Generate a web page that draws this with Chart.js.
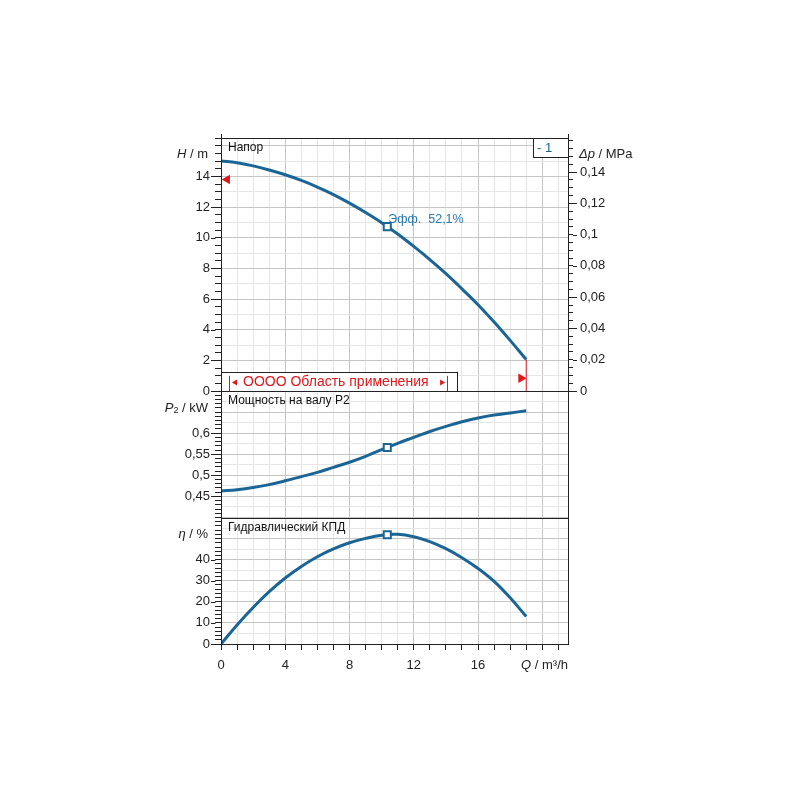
<!DOCTYPE html>
<html>
<head>
<meta charset="utf-8">
<script src="https://cdn.jsdelivr.net/npm/chart.js@4/dist/chart.umd.min.js"></script>
<style>
html,body{margin:0;padding:0;background:#fff;}
#wrap{width:800px;height:800px;position:relative;}
</style>
</head>
<body>
<div id="wrap"><canvas id="c" width="800" height="800"></canvas></div>
<script>
// ---------- data ----------
const flowQ   = [0, 1, 2, 3, 4, 5, 6, 7, 8, 9, 10, 11, 12, 13, 14, 15, 16, 17, 18, 19];
const headH   = [15.0, 14.89, 14.68, 14.41, 14.1, 13.73, 13.3, 12.81, 12.25, 11.64, 10.98, 10.24, 9.43, 8.57, 7.65, 6.66, 5.63, 4.5, 3.3, 2.05];
const powerP2 = [0.463, 0.466, 0.471, 0.478, 0.487, 0.497, 0.507, 0.519, 0.531, 0.545, 0.561, 0.576, 0.590, 0.604, 0.616, 0.627, 0.636, 0.643, 0.648, 0.653];
const effEta  = [0, 9.0, 17.3, 24.8, 31.3, 36.8, 41.4, 45.1, 48.0, 50.1, 51.6, 52.0, 50.9, 48.6, 45.2, 40.9, 35.8, 29.7, 21.9, 13.0];

const bepQ   = [10.35];
const bepH   = [10.72];
const bepP2  = [0.566];
const bepEta = [51.8];
const bepLabel = 'Эфф.  52,1%';

const endLineQ = [19, 19];
const endLineH = [0, 2.05];
const markLeft  = {q: 0.385, h: 13.8};
const markRight = {q: 18.68, h: 0.83};
const appRangeQ = [0, 14.7];
const appRangeH = 1.25;

const qLabelTicks   = [0, 4, 8, 12, 16];
const hLabelTicks   = [0, 2, 4, 6, 8, 10, 12, 14];
const p2LabelTicks  = [0.45, 0.5, 0.55, 0.6];
const etaLabelTicks = [0, 10, 20, 30, 40];
const dpLabelTicks  = [0, 0.02, 0.04, 0.06, 0.08, 0.1, 0.12, 0.14];

const qMax = 21.6, hMax = 16.5, p2Min = 0.4, p2Max = 0.7, etaMax = 60;
const dpMax = hMax * 0.00980665;

// ---------- style ----------
const BLUE = '#1b6596', TXTBLUE = '#2878ac', RED = '#e0161c', AX = '#222222';
const G_MAJ = '#c6c6c6', G_MIN = '#e6e6e6';
const FONT = "'Liberation Sans', Arial, sans-serif";
Chart.defaults.font.family = FONT;
Chart.defaults.font.size = 13;
Chart.defaults.color = AX;

function mult(v, m) { const r = v / m; return Math.abs(r - Math.round(r)) < 1e-6; }
function inList(v, list) { return list.some(t => Math.abs(t - v) < 1e-9); }
function fmt(v) { return String(+v.toFixed(4)).replace('.', ','); }
function stepTicks(min, max, step) {
  const n = Math.round((max - min) / step);
  const out = [];
  for (let i = 0; i <= n; i++) out.push({value: +(min + i * step).toFixed(6)});
  return out;
}
function tv(c) { return c.tick ? c.tick.value : NaN; }

const MINLEN = 6, MAJLEN = 10;

function leftAxis(cfg) {
  return {
    type: 'linear', position: 'left', stack: 'L', stackWeight: cfg.weight,
    min: cfg.min, max: cfg.max,
    afterBuildTicks: s => { s.ticks = stepTicks(cfg.min, cfg.tickMax, cfg.step); },
    ticks: { autoSkip: false, padding: MAJLEN - MINLEN + 1,
      callback: v => inList(v, cfg.labels) ? fmt(v) : '' },
    grid: {
      color: c => mult(tv(c), cfg.gMaj) ? G_MAJ : (mult(tv(c), cfg.gMin) ? G_MIN : 'rgba(0,0,0,0)'),
      tickColor: c => mult(tv(c), cfg.tMark) ? AX : 'rgba(0,0,0,0)',
      tickLength: MINLEN, lineWidth: 1
    },
    border: { color: AX, width: 1 },
    afterFit: s => { s.width = 221; }
  };
}

const scales = {
  x: {
    type: 'linear', position: 'bottom', min: 0, max: qMax,
    afterBuildTicks: s => { s.ticks = stepTicks(0, 21, 1); },
    ticks: { autoSkip: false, maxRotation: 0, padding: 8,
      callback: v => inList(v, qLabelTicks) ? String(v) : '' },
    grid: { color: c => mult(tv(c), 4) ? G_MAJ : G_MIN, tickColor: AX, tickLength: 6, lineWidth: 1 },
    border: { color: AX, width: 1 },
    afterFit: s => { s.height = 800 - 644; }
  },
  yE: leftAxis({weight: 1, min: 0, max: etaMax, tickMax: 60, step: 1, labels: etaLabelTicks, gMaj: 10, gMin: 5, tMark: 2}),
  yP: leftAxis({weight: 1, min: p2Min, max: p2Max, tickMax: 0.7, step: 0.005, labels: p2LabelTicks, gMaj: 0.05, gMin: 0.025, tMark: 0.01}),
  yH: leftAxis({weight: 2, min: 0, max: hMax, tickMax: 16.5, step: 0.5, labels: hLabelTicks, gMaj: 2, gMin: 1, tMark: 0.5}),
  yD: {
    type: 'linear', position: 'right', stack: 'R', stackWeight: 2, min: 0, max: dpMax,
    afterBuildTicks: s => { s.ticks = stepTicks(0, 0.16, 0.005); },
    ticks: { autoSkip: false, padding: 7, callback: v => inList(v, dpLabelTicks) ? fmt(v) : '' },
    grid: { drawOnChartArea: false, tickColor: AX, tickLength: 5 },
    border: { color: AX, width: 1 },
    afterFit: s => { s.width = 232; }
  },
  yD2: { type: 'linear', position: 'right', stack: 'R', stackWeight: 1, display: false, min: 0, max: 1, afterFit: s => { s.width = 232; } },
  yD3: { type: 'linear', position: 'right', stack: 'R', stackWeight: 1, display: false, min: 0, max: 1, afterFit: s => { s.width = 232; } }
};

function pts(xs, ys) { return xs.map((x, i) => ({x: x, y: ys[i]})); }

const curve = (data, axis) => ({
  data: data, yAxisID: axis, showLine: true, borderColor: BLUE, borderWidth: 3,
  pointRadius: 0, tension: 0.4, order: 2, borderCapStyle: 'butt'
});
const bep = (data, axis) => ({
  data: data, yAxisID: axis, showLine: false, pointStyle: 'rect', pointRadius: 5,
  pointBorderWidth: 2, pointBorderColor: BLUE, pointBackgroundColor: '#ffffff', order: 0
});

const datasets = [
  curve(pts(flowQ, headH), 'yH'),
  curve(pts(flowQ, powerP2), 'yP'),
  curve(pts(flowQ, effEta), 'yE'),
  bep(pts(bepQ, bepH), 'yH'),
  bep(pts(bepQ, bepP2), 'yP'),
  bep(pts(bepQ, bepEta), 'yE'),
  { data: pts(endLineQ, endLineH), yAxisID: 'yH', showLine: true, borderColor: RED, borderWidth: 1, pointRadius: 0, order: 3 },
  { data: [{x: markLeft.q, y: markLeft.h}], yAxisID: 'yH', pointStyle: 'triangle', rotation: -90, pointRadius: 5.5,
    pointBackgroundColor: RED, pointBorderColor: RED, pointBorderWidth: 0, order: 1 },
  { data: [{x: markRight.q, y: markRight.h}], yAxisID: 'yH', pointStyle: 'triangle', rotation: 90, pointRadius: 5.5,
    pointBackgroundColor: RED, pointBorderColor: RED, pointBorderWidth: 0, order: 1 }
];

function hline(ctx, x0, x1, y) { y = Math.round(y) + 0.5; ctx.beginPath(); ctx.moveTo(x0, y); ctx.lineTo(x1, y); ctx.stroke(); }
function vline(ctx, x, y0, y1) { x = Math.round(x) + 0.5; ctx.beginPath(); ctx.moveTo(x, y0); ctx.lineTo(x, y1); ctx.stroke(); }

function rich(ctx, parts, x, y, align) {
  let w = 0;
  parts.forEach(p => { ctx.font = p.font; p.w = ctx.measureText(p.t).width; w += p.w; });
  let cx = align === 'right' ? x - w : x;
  ctx.textAlign = 'left';
  parts.forEach(p => { ctx.font = p.font; ctx.fillText(p.t, cx, y + (p.dy || 0)); cx += p.w; });
}

const decor = {
  id: 'decor',
  afterDraw(chart) {
    const {ctx, chartArea: ca, scales: s} = chart;
    const L = ca.left, R = ca.right;
    ctx.save();
    ctx.strokeStyle = AX; ctx.lineWidth = 1;
    // frame and panel separators
    hline(ctx, L, R + 1, s.yH.top);
    hline(ctx, L, R + 1, s.yP.top);
    hline(ctx, L, R + 1, s.yE.top);
    vline(ctx, R, s.yH.top - 4, ca.bottom);
    vline(ctx, L, s.yH.top - 4, ca.bottom);
    // long (major) tick marks
    [[s.yH, hLabelTicks], [s.yP, p2LabelTicks], [s.yE, etaLabelTicks]].forEach(([sc, list]) => {
      list.forEach(v => { const y = sc.getPixelForValue(v); hline(ctx, L - MAJLEN, L - MINLEN + 0.5, y); });
    });
    dpLabelTicks.forEach(v => { const y = s.yD.getPixelForValue(v); hline(ctx, R + 5, R + 9, y); });

    // panel titles
    ctx.fillStyle = '#111'; ctx.textBaseline = 'middle'; ctx.textAlign = 'left';
    ctx.font = '12px ' + FONT;
    ctx.fillText('Напор', L + 7, s.yH.top + 10);
    ctx.fillText('Мощность на валу P2', L + 7, s.yP.top + 10);
    ctx.fillText('Гидравлический КПД', L + 7, s.yE.top + 10);

    // axis titles
    const it = 'italic 13px ' + FONT, nm = '13px ' + FONT;
    ctx.fillStyle = AX;
    rich(ctx, [{t: 'H', font: it}, {t: ' / m', font: nm}], L - 13, s.yH.top + 16, 'right');
    rich(ctx, [{t: 'P', font: it}, {t: '2', font: '9px ' + FONT, dy: 3}, {t: ' / kW', font: nm}], L - 13, s.yP.top + 17, 'right');
    rich(ctx, [{t: 'η', font: it}, {t: ' / %', font: nm}], L - 13, s.yE.top + 17, 'right');
    rich(ctx, [{t: 'Q', font: it}, {t: ' / m³/h', font: nm}], R, ca.bottom + 21, 'right');
    rich(ctx, [{t: 'Δp', font: it}, {t: ' / MPa', font: nm}], R + 11, s.yH.top + 16, 'left');

    // "- 1" box
    const bt = Math.round(s.yH.top) + 0.5;
    ctx.fillStyle = '#fff';
    ctx.fillRect(R - 35, bt, 35, 19);
    ctx.strokeRect(Math.round(R - 35) + 0.5, bt, 35, 19);
    ctx.fillStyle = BLUE; ctx.font = '13px ' + FONT; ctx.textAlign = 'left';
    ctx.fillText('- 1', R - 31, bt + 10);

    // BEP label
    const px = s.x.getPixelForValue(bepQ[0]), py = s.yH.getPixelForValue(bepH[0]);
    ctx.fillStyle = TXTBLUE; ctx.font = '12.5px ' + FONT;
    ctx.fillText(bepLabel, px + 1, py - 7);

    // application range box
    const x0 = s.x.getPixelForValue(appRangeQ[0]), x1 = s.x.getPixelForValue(appRangeQ[1]);
    const y0 = s.yH.getPixelForValue(appRangeH), y1 = s.yH.getPixelForValue(0);
    ctx.fillStyle = '#fff';
    ctx.fillRect(x0 + 1, y0, x1 - x0, y1 - y0);
    ctx.strokeStyle = AX;
    hline(ctx, x0, x1, y0);
    vline(ctx, x1, y0, y1);
    ctx.strokeStyle = RED; ctx.fillStyle = RED;
    const bl = x0 + 8, br = x1 - 10, mid = (y0 + y1) / 2 + 1;
    vline(ctx, bl, y0 + 4, y1);
    vline(ctx, br, y0 + 4, y1);
    ctx.beginPath(); ctx.moveTo(bl + 3, mid); ctx.lineTo(bl + 8, mid - 3); ctx.lineTo(bl + 8, mid + 3); ctx.closePath(); ctx.fill();
    ctx.beginPath(); ctx.moveTo(br - 2, mid); ctx.lineTo(br - 7, mid - 3); ctx.lineTo(br - 7, mid + 3); ctx.closePath(); ctx.fill();
    ctx.font = '14px ' + FONT; ctx.textAlign = 'left';
    ctx.fillText('OOOO Область применения', bl + 14, mid);
    ctx.restore();
  }
};

new Chart(document.getElementById('c'), {
  type: 'scatter',
  data: { datasets: datasets },
  options: {
    responsive: false, animation: false, devicePixelRatio: 1,
    layout: { padding: { top: 138, left: 0, right: 0, bottom: 0 } },
    plugins: { legend: { display: false }, tooltip: { enabled: false } },
    scales: scales
  },
  plugins: [decor]
});
</script>
</body>
</html>
